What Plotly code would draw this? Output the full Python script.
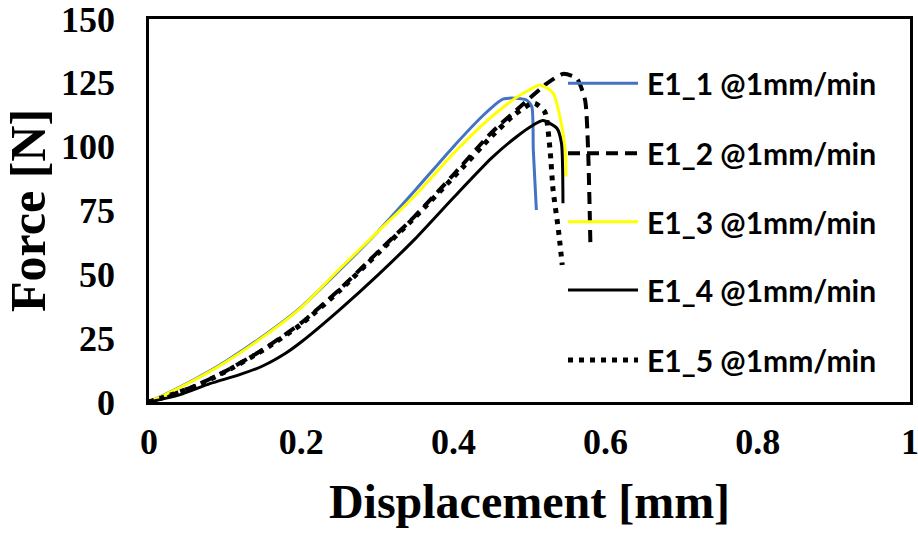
import plotly.graph_objects as go

# ---- data ----
series_names = ["E1_1 @1mm/min", "E1_2 @1mm/min", "E1_3 @1mm/min",
                "E1_4 @1mm/min", "E1_5 @1mm/min"]

e1_1_x = [0, 0.02, 0.06, 0.10, 0.15, 0.20, 0.25, 0.30, 0.35, 0.40, 0.44,
          0.465, 0.48, 0.496, 0.503, 0.505, 0.509]
e1_1_y = [0, 2.8, 8.9, 15.8, 25.8, 37.2, 51.5, 66.5, 83, 100, 112.5,
          118.6, 119, 118.3, 115.7, 98.7, 75.2]

e1_2_x = [0, 0.03, 0.06, 0.10, 0.15, 0.20, 0.25, 0.30, 0.35, 0.40, 0.45,
          0.483, 0.523, 0.544, 0.562, 0.573, 0.577, 0.58]
e1_2_y = [0, 3.0, 6.2, 12, 20.6, 31, 44, 58.5, 73, 89, 105.5,
          114.4, 124.8, 128.5, 126.8, 118.3, 98.7, 62.2]

e1_3_x = [0, 0.02, 0.06, 0.10, 0.15, 0.20, 0.25, 0.30, 0.35, 0.40, 0.44,
          0.47, 0.49, 0.514, 0.531, 0.54, 0.547, 0.548]
e1_3_y = [0, 2.7, 8.7, 15.5, 25.5, 37, 52, 66.5, 81, 97.3, 109,
          116.5, 120.6, 124.2, 121, 111.7, 98.7, 88.3]

e1_4_x = [0, 0.04, 0.08, 0.12, 0.15, 0.18, 0.20, 0.25, 0.30, 0.35, 0.40,
          0.45, 0.483, 0.505, 0.518, 0.536, 0.542, 0.544]
e1_4_y = [0, 2.8, 7.2, 10.8, 14.2, 19.2, 23.5, 36, 49.5, 64, 80,
          95.5, 103.9, 108.5, 110.2, 107.2, 101.3, 77.8]

e1_5_x = [0, 0.03, 0.06, 0.10, 0.15, 0.20, 0.25, 0.30, 0.35, 0.40, 0.45,
          0.48, 0.50, 0.507, 0.52, 0.527, 0.531, 0.538, 0.543]
e1_5_y = [0, 2.9, 6, 11.8, 20.3, 30.5, 43.5, 58, 72.5, 88, 104,
          112.5, 116.5, 117, 113.7, 98.7, 83, 67.4, 53.7]

x_ticks = [0, 0.2, 0.4, 0.6, 0.8, 1]
x_tick_labels = ["0", "0.2", "0.4", "0.6", "0.8", "1"]
y_ticks = [0, 25, 50, 75, 100, 125, 150]

# ---- styles ----
styles = [
    dict(color="#4472C4", width=3, dash="solid"),
    dict(color="black", width=4, dash="12px,7px"),
    dict(color="#FFFF00", width=3, dash="solid"),
    dict(color="black", width=3, dash="solid"),
    dict(color="black", width=5, dash="5px,6px"),
]
xs = [e1_1_x, e1_2_x, e1_3_x, e1_4_x, e1_5_x]
ys = [e1_1_y, e1_2_y, e1_3_y, e1_4_y, e1_5_y]

fig = go.Figure()
for name, x, y, st in zip(series_names, xs, ys, styles):
    fig.add_trace(go.Scatter(x=x, y=y, mode="lines", name=name,
                             line=dict(color=st["color"], width=st["width"],
                                       dash=st["dash"], shape="spline",
                                       smoothing=0.6),
                             showlegend=False))

# manual legend (long sample lines as in the reference)
leg_y = [0.832, 0.6493, 0.4708, 0.2924, 0.1097]
for name, st, ly in zip(series_names, styles, leg_y):
    fig.add_shape(type="line", xref="paper", yref="paper",
                  x0=0.5506, x1=0.6426, y0=ly, y1=ly,
                  line=dict(color=st["color"], width=st["width"],
                            dash=st["dash"]))
    fig.add_annotation(xref="paper", yref="paper", x=0.6518, y=ly,
                       xanchor="left", yanchor="middle", showarrow=False,
                       text="<b>" + name + "</b>",
                       font=dict(family="Lato", size=30, color="black"))

axis_common = dict(showline=True, linecolor="black", linewidth=2.5, mirror=True,
                   showgrid=False, zeroline=False, ticks="", automargin=False,
                   ticklabeloverflow="allow",
                   tickfont=dict(family="Liberation Serif", size=36, color="black",
                                 weight="bold"))

fig.update_xaxes(range=[0, 1], tickvals=x_ticks, ticktext=x_tick_labels,
                 ticklabelstandoff=6,
                 title=dict(text="<b>Displacement [mm]</b>", standoff=24,
                            font=dict(family="Liberation Serif", size=48, color="black")),
                 **axis_common)
fig.update_yaxes(range=[0, 150], tickvals=y_ticks,
                 ticklabelstandoff=24,
                 title=dict(text="<b>Force [N]</b>", standoff=14,
                            font=dict(family="Liberation Serif", size=50, color="black")),
                 **axis_common)

fig.update_layout(width=918, height=534,
                  margin=dict(l=149, r=8, t=19, b=132),
                  plot_bgcolor="white", paper_bgcolor="white")

fig.write_html("out.html", config={"displayModeBar": False},
               post_script="document.body.style.margin='0';")
